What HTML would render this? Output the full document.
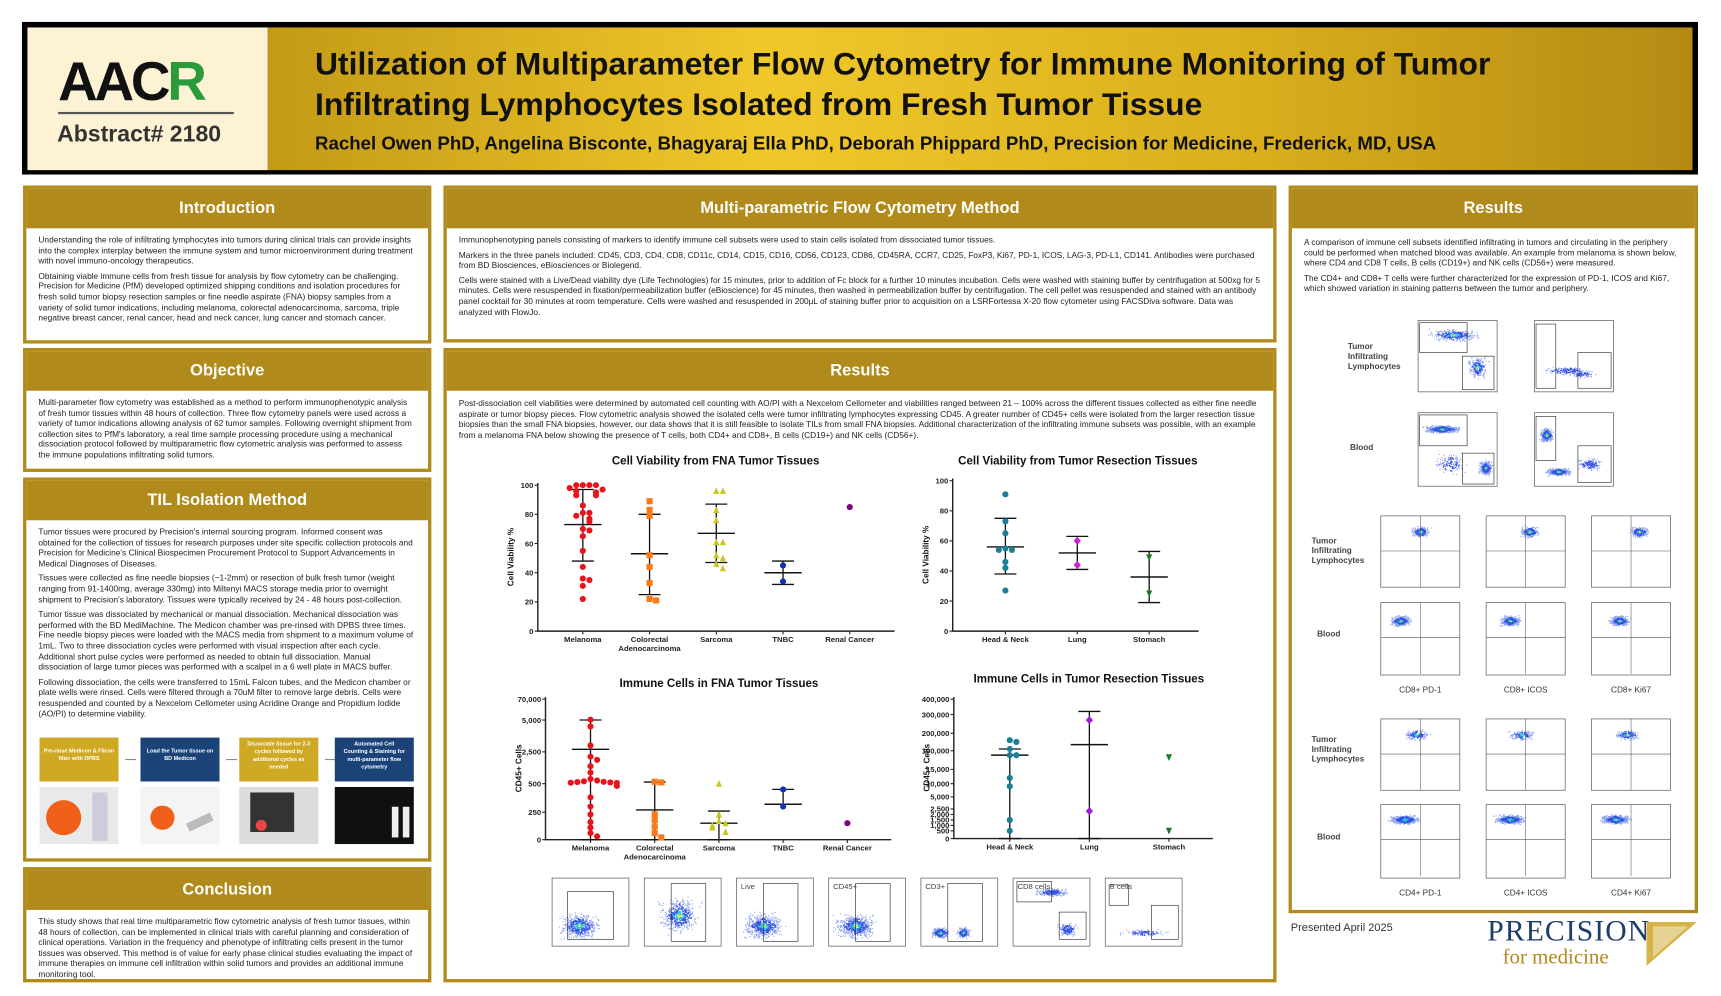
<!DOCTYPE html>
<html><head><meta charset="utf-8"><style>
*{box-sizing:border-box;margin:0;padding:0}
body{width:1721px;height:995px;background:#fff;position:relative;overflow:hidden;font-family:"Liberation Sans",Arial,sans-serif;color:#222}
#wrap{position:absolute;left:0;top:0;width:1568px;height:907px;transform:scale(1.0976);transform-origin:0 0}
.abs{position:absolute}
.panel{position:absolute;border:3px solid #b08a1a;background:#fff}
.ph{background:#b08a1a;color:#fff;font-weight:bold;font-size:15px;text-align:center;height:36px;line-height:36px}
.pb{font-size:7.6px;line-height:9.6px;padding:6px 12px 4px 11px;color:#222}
.pb p{margin-bottom:4px}
#main{position:absolute;left:0;top:0}
</style></head><body>
<div id="wrap">
<div class="abs" style="left:20px;top:20px;width:1527px;height:139px;background:#000"></div>
<div class="abs" style="left:25px;top:25px;width:219px;height:130px;background:#fdf3d4">
 <div style="position:absolute;left:28px;top:20px;font-size:50px;font-weight:bold;letter-spacing:-3px;color:#111">AAC<span style="color:#2a9a3a">R</span></div>
 <div style="position:absolute;left:28px;top:77px;width:160px;height:2px;background:#555"></div>
 <div style="position:absolute;left:27px;top:86px;font-size:21px;font-weight:bold;color:#333">Abstract# 2180</div>
</div>
<div class="abs" style="left:244px;top:25px;width:1298px;height:130px;background:linear-gradient(90deg,#c39a16 0%,#f0c82a 35%,#d8ae1c 70%,#b48a14 100%)">
 <div style="position:absolute;left:43px;top:16px;font-size:29px;font-weight:bold;line-height:37px;color:#111">Utilization of Multiparameter Flow Cytometry for Immune Monitoring of Tumor<br>Infiltrating Lymphocytes Isolated from Fresh Tumor Tissue</div>
 <div style="position:absolute;left:43px;top:96px;font-size:17px;font-weight:bold;color:#111">Rachel Owen PhD, Angelina Bisconte, Bhagyaraj Ella PhD, Deborah Phippard PhD, Precision for Medicine, Frederick, MD, USA</div>
</div>

<div class="panel" style="left:21px;top:169px;width:372px;height:144px"><div class="ph">Introduction</div><div class="pb">
<p>Understanding the role of infiltrating lymphocytes into tumors during clinical trials can provide insights into the complex interplay between the immune system and tumor microenvironment during treatment with novel immuno-oncology therapeutics.</p>
<p>Obtaining viable immune cells from fresh tissue for analysis by flow cytometry can be challenging. Precision for Medicine (PfM) developed optimized shipping conditions and isolation procedures for fresh solid tumor biopsy resection samples or fine needle aspirate (FNA) biopsy samples from a variety of solid tumor indications, including melanoma, colorectal adenocarcinoma, sarcoma, triple negative breast cancer, renal cancer, head and neck cancer, lung cancer and stomach cancer.</p></div></div>

<div class="panel" style="left:21px;top:317px;width:372px;height:113px"><div class="ph">Objective</div><div class="pb">
<p>Multi-parameter flow cytometry was established as a method to perform immunophenotypic analysis of fresh tumor tissues within 48 hours of collection. Three flow cytometry panels were used across a variety of tumor indications allowing analysis of 62 tumor samples. Following overnight shipment from collection sites to PfM's laboratory, a real time sample processing procedure using a mechanical dissociation protocol followed by multiparametric flow cytometric analysis was performed to assess the immune populations infiltrating solid tumors.</p></div></div>

<div class="panel" style="left:21px;top:435px;width:372px;height:350px"><div class="ph">TIL Isolation Method</div><div class="pb">
<p>Tumor tissues were procured by Precision's internal sourcing program. Informed consent was obtained for the collection of tissues for research purposes under site specific collection protocols and Precision for Medicine's Clinical Biospecimen Procurement Protocol to Support Advancements in Medical Diagnoses of Diseases.</p>
<p>Tissues were collected as fine needle biopsies (~1-2mm) or resection of bulk fresh tumor (weight ranging from 91-1400mg, average 330mg) into Miltenyi MACS storage media prior to overnight shipment to Precision's laboratory. Tissues were typically received by 24 - 48 hours post-collection.</p>
<p>Tumor tissue was dissociated by mechanical or manual dissociation. Mechanical dissociation was performed with the BD MediMachine. The Medicon chamber was pre-rinsed with DPBS three times. Fine needle biopsy pieces were loaded with the MACS media from shipment to a maximum volume of 1mL. Two to three dissociation cycles were performed with visual inspection after each cycle. Additional short pulse cycles were performed as needed to obtain full dissociation. Manual dissociation of large tumor pieces was performed with a scalpel in a 6 well plate in MACS buffer.</p>
<p>Following dissociation, the cells were transferred to 15mL Falcon tubes, and the Medicon chamber or plate wells were rinsed. Cells were filtered through a 70uM filter to remove large debris. Cells were resuspended and counted by a Nexcelom Cellometer using Acridine Orange and Propidium Iodide (AO/PI) to determine viability.</p></div></div>

<div class="panel" style="left:21px;top:790px;width:372px;height:105px"><div class="ph">Conclusion</div><div class="pb">
<p>This study shows that real time multiparametric flow cytometric analysis of fresh tumor tissues, within 48 hours of collection, can be implemented in clinical trials with careful planning and consideration of clinical operations. Variation in the frequency and phenotype of infiltrating cells present in the tumor tissues was observed. This method is of value for early phase clinical studies evaluating the impact of immune therapies on immune cell infiltration within solid tumors and provides an additional immune monitoring tool.</p></div></div>

<div class="panel" style="left:404px;top:169px;width:759px;height:143px"><div class="ph">Multi-parametric Flow Cytometry Method</div><div class="pb">
<p>Immunophenotyping panels consisting of markers to identify immune cell subsets were used to stain cells isolated from dissociated tumor tissues.</p>
<p>Markers in the three panels included: CD45, CD3, CD4, CD8, CD11c, CD14, CD15, CD16, CD56, CD123, CD86, CD45RA, CCR7, CD25, FoxP3, Ki67, PD-1, ICOS, LAG-3, PD-L1, CD141. Antibodies were purchased from BD Biosciences, eBiosciences or Biolegend.</p>
<p>Cells were stained with a Live/Dead viability dye (Life Technologies) for 15 minutes, prior to addition of Fc block for a further 10 minutes incubation. Cells were washed with staining buffer by centrifugation at 500xg for 5 minutes. Cells were resuspended in fixation/permeabilization buffer (eBioscience) for 45 minutes, then washed in permeabilization buffer by centrifugation. The cell pellet was resuspended and stained with an antibody panel cocktail for 30 minutes at room temperature. Cells were washed and resuspended in 200µL of staining buffer prior to acquisition on a LSRFortessa X-20 flow cytometer using FACSDiva software. Data was analyzed with FlowJo.</p></div></div>

<div class="panel" style="left:404px;top:317px;width:759px;height:578px"><div class="ph">Results</div><div class="pb" style="padding-top:7px">
<p>Post-dissociation cell viabilities were determined by automated cell counting with AO/PI with a Nexcelom Cellometer and viabilities ranged between 21 – 100% across the different tissues collected as either fine needle aspirate or tumor biopsy pieces. Flow cytometric analysis showed the isolated cells were tumor infiltrating lymphocytes expressing CD45. A greater number of CD45+ cells were isolated from the larger resection tissue biopsies than the small FNA biopsies, however, our data shows that it is still feasible to isolate TILs from small FNA biopsies. Additional characterization of the infiltrating immune subsets was possible, with an example from a melanoma FNA below showing the presence of T cells, both CD4+ and CD8+, B cells (CD19+) and NK cells (CD56+).</p></div></div>

<div class="panel" style="left:1174px;top:169px;width:373px;height:663px"><div class="ph">Results</div><div class="pb" style="padding-top:8px">
<p>A comparison of immune cell subsets identified infiltrating in tumors and circulating in the periphery could be performed when matched blood was available. An example from melanoma is shown below, where CD4 and CD8 T cells, B cells (CD19+) and NK cells (CD56+) were measured.</p>
<p>The CD4+ and CD8+ T cells were further characterized for the expression of PD-1, ICOS and Ki67, which showed variation in staining patterns between the tumor and periphery.</p></div></div>

<div class="abs" style="left:1176px;top:840px;font-size:10px;color:#333">Presented April 2025</div>
<div class="abs" style="left:1355px;top:834px;font-family:'Liberation Serif',serif;color:#1d3d6b">
 <div style="font-size:27px;letter-spacing:1px;line-height:28px">PRECISION</div>
 <div style="font-size:19px;color:#b08a1a;margin-left:14px;line-height:22px">for medicine</div>
</div>
<svg class="abs" style="left:1500px;top:840px" width="46" height="40"><polygon points="0,0 46,0 0,40" fill="#d6b44a"/><polygon points="6,4 38,4 6,32" fill="#fff" opacity="0.4"/></svg>

<svg id="main" width="1568" height="907" font-family="Liberation Sans, Arial, sans-serif"></svg>
</div>

<script>
// ---------- Chart data ----------
const fnaCategories=["Melanoma","Colorectal|Adenocarcinoma","Sarcoma","TNBC","Renal Cancer"];
const fnaViability=[[100,100,100,100,98,97,96,95,93,93,86,81,81,79,77,75,70,69,65,55,44,36,35,31,22],[89,83,79,52,44,33,22,21],[96,96,83,76,61,61,52,50,46,43],[45,34],[85]];
const fnaViabilityMean=[73,53,67,40,null];
const fnaViabilityHigh=[97,80,87,48,null];
const fnaViabilityLow=[48,25,47,32,null];
const viabilityTicks=[0,20,40,60,80,100];

const resCategories=["Head & Neck","Lung","Stomach"];
const resViability=[[91,73,65,55,54,54,46,42,27],[60,44],[49,25]];
const resViabilityMean=[56,52,36];
const resViabilityHigh=[75,63,53];
const resViabilityLow=[38,41,19];

const fnaCells=[[6000,4500,3000,2200,2000,1600,1200,800,700,650,620,600,580,560,550,480,380,300,230,160,110,60,30],[620,580,230,180,120,60,20],[500,230,170,150,130,110,70],[450,300],[150]];
const fnaCellsMean=[2700,270,150,320,null];
const fnaCellsHigh=[5000,600,260,450,null];
const fnaCellsLow=[0,0,0,null,null];
const fnaCellTicks=[0,250,500,2500,5000,70000];
const fnaCellTickLabels=["0","250","500","2,500","5,000","70,000"];

const resCells=[[160000,150000,110000,80000,80000,12000,9000,1500,500],[270000,2300],[70000,500]];
const resCellsMean=[80000,135000,null];
const resCellsHigh=[110000,320000,null];
const resCellsLow=[0,0,null];
const resCellTicks=[0,500,1000,1500,2000,2500,5000,10000,15000,100000,200000,300000,400000];
const resCellTickLabels=["0","500","1,000","1,500","2,000","2,500","5,000","10,000","15,000","100,000","200,000","300,000","400,000"];

// ---------- helpers ----------
const NS="http://www.w3.org/2000/svg";
const svg=document.getElementById('main');
function el(tag,attrs,parent){const e=document.createElementNS(NS,tag);for(const k in attrs)e.setAttribute(k,attrs[k]);(parent||svg).appendChild(e);return e;}
function linScale(d0,d1,r0,r1){return v=>r0+(v-d0)/(d1-d0)*(r1-r0);}
function pieceScale(dom,rng){return v=>{for(let i=0;i<dom.length-1;i++){if(v<=dom[i+1]||i===dom.length-2){return rng[i]+(v-dom[i])/(dom[i+1]-dom[i])*(rng[i+1]-rng[i]);}}};}
function marker(g,shape,x,y,c,name){let m;const s=2.8;
 if(shape==='circle')m=el('circle',{cx:x,cy:y,r:s,fill:c},g);
 else if(shape==='square')m=el('rect',{x:x-s,y:y-s,width:2*s,height:2*s,fill:c},g);
 else if(shape==='tri')m=el('polygon',{points:`${x},${y-s-0.5} ${x+s},${y+s} ${x-s},${y+s}`,fill:c},g);
 else if(shape==='dtri')m=el('polygon',{points:`${x},${y+s+0.5} ${x+s},${y-s} ${x-s},${y-s}`,fill:c},g);
 else m=el('polygon',{points:`${x},${y-s-1} ${x+s+0.5},${y} ${x},${y+s+1} ${x-s-0.5},${y}`,fill:c},g);
 
 }

function drawChart(cfg){
 const g=el('g',{});
 
 
 const t=el('text',{x:cfg.titleX,y:cfg.titleY,'font-size':10.5,'font-weight':'bold','text-anchor':'middle',fill:'#111'},g);t.textContent=cfg.title;
 
 const ax=el('path',{d:`M${cfg.x0},${cfg.yTop} V${cfg.yBot} H${cfg.x1}`,stroke:'#222','stroke-width':1.3,fill:'none'},g);
 
 cfg.ticks.forEach((v,i)=>{const y=cfg.ys(v);el('line',{x1:cfg.x0-3,x2:cfg.x0,y1:y,y2:y,stroke:'#222'},g);
  const l=el('text',{x:cfg.x0-4,y:y+2.5,'font-size':7,'font-weight':'bold','text-anchor':'end',fill:'#222'},g);l.textContent=cfg.tickLabels?cfg.tickLabels[i]:v;
  });
 const yl=el('text',{x:0,y:0,transform:`translate(${cfg.x0-22},${(cfg.yTop+cfg.yBot)/2}) rotate(-90)`,'font-size':7.5,'font-weight':'bold','text-anchor':'middle',fill:'#111'},g);yl.textContent=cfg.yTitle;
 
 cfg.cats.forEach((c,i)=>{const x=cfg.xs(i);el('line',{x1:x,x2:x,y1:cfg.yBot,y2:cfg.yBot+3,stroke:'#222'},g);
  c.split('|').forEach((p,j)=>{const l=el('text',{x:x,y:cfg.yBot+10+j*8,'font-size':7,'font-weight':'bold','text-anchor':'middle',fill:'#222'},g);l.textContent=p;
   });
  const hi=cfg.hi[i],lo=cfg.lo[i],mn=cfg.mean[i];
  if(hi!=null&&lo!=null){el('line',{x1:x,x2:x,y1:cfg.ys(hi),y2:cfg.ys(lo),stroke:'#111','stroke-width':1.2},g);
   el('line',{x1:x-10,x2:x+10,y1:cfg.ys(hi),y2:cfg.ys(hi),stroke:'#111','stroke-width':1.2},g);
   el('line',{x1:x-10,x2:x+10,y1:cfg.ys(lo),y2:cfg.ys(lo),stroke:'#111','stroke-width':1.2},g);}
  else if(hi!=null){el('line',{x1:x,x2:x,y1:cfg.ys(hi),y2:cfg.ys(mn),stroke:'#111','stroke-width':1.2},g);el('line',{x1:x-10,x2:x+10,y1:cfg.ys(hi),y2:cfg.ys(hi),stroke:'#111','stroke-width':1.2},g);}
  if(mn!=null)el('line',{x1:x-17,x2:x+17,y1:cfg.ys(mn),y2:cfg.ys(mn),stroke:'#111','stroke-width':1.3},g);
  const placed=[];
  cfg.vals[i].forEach(v=>{const y=cfg.ys(v);const n=placed.filter(p=>Math.abs(p-y)<5).length;placed.push(y);
   const off=n===0?0:(n%2?1:-1)*Math.ceil(n/2)*6;
   marker(g,cfg.shapes[i],x+off,y,cfg.colors[i],'data-point');});
 });
}

drawChart({name:'fna-viability-chart',title:'Cell Viability from FNA Tumor Tissues',titleX:652,titleY:423,x0:490,x1:815,yTop:440,yBot:575,
 ys:linScale(0,100,575,442),xs:i=>531+i*60.8,ticks:viabilityTicks,yTitle:'Cell Viability %',cats:fnaCategories,vals:fnaViability,mean:fnaViabilityMean,hi:fnaViabilityHigh,lo:fnaViabilityLow,
 shapes:['circle','square','tri','circle','circle'],colors:['#e8141c','#f97a16','#c8c81e','#1030c0','#800080']});
drawChart({name:'resection-viability-chart',title:'Cell Viability from Tumor Resection Tissues',titleX:982,titleY:423,x0:868,x1:1092,yTop:436,yBot:575,
 ys:linScale(0,100,575,438),xs:i=>916+i*65.5,ticks:viabilityTicks,yTitle:'Cell Viability %',cats:resCategories,vals:resViability,mean:resViabilityMean,hi:resViabilityHigh,lo:resViabilityLow,
 shapes:['circle','diamond','dtri'],colors:['#1a7f95','#d020d0','#1a7a2a']});
drawChart({name:'fna-immune-cells-chart',title:'Immune Cells in FNA Tumor Tissues',titleX:655,titleY:626,x0:497,x1:812,yTop:635,yBot:765,
 ys:pieceScale(fnaCellTicks,[765,740,714,685,656,637]),xs:i=>538+i*58.5,ticks:fnaCellTicks,tickLabels:fnaCellTickLabels,yTitle:'CD45+ Cells',cats:fnaCategories,vals:fnaCells,mean:fnaCellsMean,hi:fnaCellsHigh,lo:fnaCellsLow,
 shapes:['circle','square','tri','circle','circle'],colors:['#e8141c','#f97a16','#c8c81e','#1030c0','#800080']});
drawChart({name:'resection-immune-cells-chart',title:'Immune Cells in Tumor Resection Tissues',titleX:992,titleY:622,x0:869,x1:1105,yTop:635,yBot:764,
 ys:pieceScale(resCellTicks,[764,757,752,747,742,737,726,714,701,684,668,651,637]),xs:i=>920+i*72.5,ticks:resCellTicks,tickLabels:resCellTickLabels,yTitle:'CD45+ Cells',cats:resCategories,vals:resCells,mean:resCellsMean,hi:resCellsHigh,lo:resCellsLow,
 shapes:['circle','diamond','dtri'],colors:['#1a7f95','#a020d0','#1a7a2a']});

// ---------- decorative flow cytometry plots ----------
let seed=7;function rnd(){seed=(seed*16807)%2147483647;return seed/2147483647;}
function gauss(){return (rnd()+rnd()+rnd()-1.5)/1.2;}
function flow(name,x,y,w,h,clusters,gates,label){
 const g=el('g',{});
 
 
 el('rect',{x:x,y:y,width:w,height:h,fill:'#fff',stroke:'#666','stroke-width':0.7},g);
 clusters.forEach(c=>{for(let i=0;i<c[4]*2.5;i++){const px=x+w*(c[0]+gauss()*c[2]),py=y+h*(c[1]+gauss()*c[3]);
   if(px>x&&px<x+w&&py>y&&py<y+h){const d=Math.abs(px-x-w*c[0])/(w*c[2]+1)+Math.abs(py-y-h*c[1])/(h*c[3]+1);
    el('rect',{x:px,y:py,width:1,height:1,fill:d<0.12&&c[5]?'#f0e020':(d<0.3&&c[5]?'#22c0e0':(d<0.7?'#3050e0':'#8aa0f0'))},g);}}});
 (gates||[]).forEach(r=>el('rect',{x:x+w*r[0],y:y+h*r[1],width:w*r[2],height:h*r[3],fill:'none',stroke:'#333','stroke-width':0.6},g));
 if(label){const t=el('text',{x:x+w/2,y:y+h+16,'font-size':7.5,'text-anchor':'middle',fill:'#333'},g);t.textContent=label;}
}
const rowLbl=(t,x,y)=>{t.split('|').forEach((p,i)=>{const l=el('text',{x:x,y:y+i*9,'font-size':7.5,'font-weight':'bold',fill:'#444'});l.textContent=p;});};
rowLbl('Tumor|Infiltrating|Lymphocytes',1228,318);rowLbl('Blood',1230,410);
flow('til-cd4-cd8-plot',1292,292,72,65,[[0.45,0.2,0.3,0.08,140,1],[0.75,0.65,0.12,0.15,90,1]],[[0.02,0.03,0.6,0.42],[0.56,0.5,0.4,0.47]]);
flow('til-b-nk-plot',1398,292,72,65,[[0.4,0.7,0.3,0.06,60,0],[0.6,0.75,0.15,0.05,30,0]],[[0.02,0.05,0.25,0.9],[0.55,0.45,0.42,0.5]]);
flow('blood-cd4-cd8-plot',1292,376,72,67,[[0.3,0.22,0.22,0.05,260,1],[0.85,0.75,0.08,0.1,150,1],[0.4,0.7,0.2,0.15,50,0]],[[0.02,0.03,0.6,0.42],[0.56,0.55,0.4,0.42]]);
flow('blood-b-nk-plot',1398,376,72,67,[[0.15,0.3,0.08,0.1,120,1],[0.3,0.8,0.15,0.05,160,1],[0.7,0.7,0.15,0.08,60,0]],[[0.02,0.05,0.25,0.6],[0.55,0.45,0.42,0.5]]);
rowLbl('Tumor|Infiltrating|Lymphocytes',1195,495);rowLbl('Blood',1200,580);
rowLbl('Tumor|Infiltrating|Lymphocytes',1195,676);rowLbl('Blood',1200,765);
const cd8=['CD8+ PD-1','CD8+ ICOS','CD8+ Ki67'],cd4=['CD4+ PD-1','CD4+ ICOS','CD4+ Ki67'];
for(let k=0;k<3;k++){const x=1258+k*96;
 flow('til-cd8-plot-'+k,x,470,72,65,[[0.5+k*0.05,0.22,0.12,0.08,90,1]],[],null);
 flow('blood-cd8-plot-'+k,x,549,72,66,[[0.25+k*0.05,0.25,0.12,0.07,200,1]],[],cd8[k]);
 flow('til-cd4-plot-'+k,x,655,72,65,[[0.45,0.22,0.15,0.07,70,1]],[],null);
 flow('blood-cd4-plot-'+k,x,733,72,67,[[0.3,0.2,0.18,0.06,230,1]],[],cd4[k]);
 [470,549,655,733].forEach(yy=>{el('line',{x1:x+36,x2:x+36,y1:yy,y2:yy+65,stroke:'#555','stroke-width':0.5});el('line',{x1:x,x2:x+72,y1:yy+32,y2:yy+32,stroke:'#555','stroke-width':0.5});});}
const stripLbl=['','','Live','CD45+','CD3+','CD8 cells','B cells'];
for(let k=0;k<7;k++){const x=503+k*84;
 const cl=k===1?[[0.45,0.55,0.25,0.25,200,1]]:k===4?[[0.25,0.8,0.12,0.08,120,1],[0.55,0.8,0.08,0.08,80,1]]:k===5?[[0.5,0.2,0.2,0.06,80,0],[0.7,0.75,0.12,0.1,60,0]]:k===6?[[0.5,0.8,0.3,0.05,40,0]]:[[0.35,0.7,0.25,0.18,220,1]];
 flow('gating-plot-'+k,x,800,70,62,cl,k===0?[[0.2,0.2,0.6,0.7]]:k===5?[[0.05,0.05,0.45,0.3],[0.6,0.5,0.35,0.4]]:k===6?[[0.05,0.1,0.25,0.3],[0.6,0.4,0.35,0.5]]:[[0.35,0.08,0.45,0.85]],null);
 if(stripLbl[k]){const t=el('text',{x:x+4,y:810,'font-size':7,fill:'#444'});t.textContent=stripLbl[k];}}
const steps=[['Pre-rinse Medicon & Filcon|filter with DPBS','#cfa824'],['Load the Tumor tissue on|BD Medicon','#1c4378'],['Dissociate tissue for 2-3|cycles followed by|additional cycles as|needed','#cfa824'],['Automated Cell|Counting & Staining for|multi-parameter flow|cytometry','#1c4378']];
steps.forEach((s,i)=>{const x=[36,128,218,305][i];
 const r=el('rect',{x:x,y:672,width:72,height:40,fill:s[1]});
 const ls=s[0].split('|');ls.forEach((p,j)=>{const t=el('text',{x:x+36,y:692-ls.length*3.2+j*7,'font-size':5,'font-weight':'bold','text-anchor':'middle',fill:'#fff'});t.textContent=p;});
 if(i<3)el('line',{x1:x+78,x2:x+88,y1:692,y2:692,stroke:'#888'});
 el('rect',{x:x,y:717,width:72,height:52,fill:['#e8eaea','#f4f4f4','#dcdcdc','#101010'][i]});
 if(i===0){el('circle',{cx:x+22,cy:745,r:16,fill:'#f06018'});el('rect',{x:x+48,y:722,width:14,height:44,fill:'#ccd'});}
 if(i===1){el('circle',{cx:x+20,cy:745,r:11,fill:'#f06018'});el('rect',{x:x+42,y:745,width:24,height:8,fill:'#bbb',transform:`rotate(-25 ${x+54} 749)`});}
 if(i===2){el('rect',{x:x+10,y:722,width:40,height:36,fill:'#333'});el('circle',{cx:x+20,cy:752,r:5,fill:'#e44'});}
 if(i===3){el('rect',{x:x+52,y:735,width:6,height:28,fill:'#eee'});el('rect',{x:x+62,y:735,width:6,height:28,fill:'#eee'});}
});
</script>
</body></html>
